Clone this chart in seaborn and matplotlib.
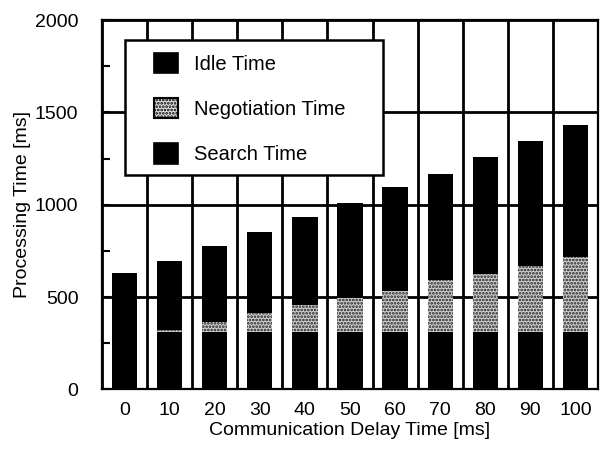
import matplotlib
matplotlib.use("Agg")
import matplotlib.pyplot as plt
from matplotlib.patches import Patch, Rectangle
from matplotlib.ticker import MultipleLocator
import numpy as np
import pandas as pd
import seaborn as sns

# Communication delay (ms) and the three processing-time components (ms)
delays = ["0", "10", "20", "30", "40", "50", "60", "70", "80", "90", "100"]
search_time = [313, 313, 313, 313, 313, 313, 313, 313, 313, 313, 313]
negotiation_time = [0, 8, 51, 100, 145, 181, 222, 277, 313, 358, 403]
idle_time = [320, 377, 415, 442, 473, 515, 559, 576, 633, 672, 714]

legend_labels = ["Idle Time", "Negotiation Time", "Search Time"]

sns.set_style("white")
plt.rcParams["font.family"] = ["Liberation Sans", "DejaVu Sans"]
plt.rcParams["text.color"] = "black"
plt.rcParams["axes.labelcolor"] = "black"
plt.rcParams["xtick.color"] = "black"
plt.rcParams["ytick.color"] = "black"
plt.rcParams["hatch.linewidth"] = 1.3

df = pd.DataFrame({
    "delay": delays,
    "search": search_time,
    "negotiation": negotiation_time,
    "idle": idle_time,
})
df["upto_negotiation"] = df["search"] + df["negotiation"]
df["total"] = df["upto_negotiation"] + df["idle"]

fig = plt.figure(figsize=(6.01, 4.55), dpi=100)
ax = fig.add_axes([0.1697, 0.144, 0.8253, 0.812])

bar_w = 0.56
# stacked bars drawn as overlapping cumulative layers
sns.barplot(data=df, x="delay", y="total", order=delays, color="black",
            width=bar_w, linewidth=0, saturation=1, ax=ax, zorder=2)
sns.barplot(data=df, x="delay", y="upto_negotiation", order=delays, color="#cfcfcf",
            width=bar_w, linewidth=0, edgecolor="#202020", hatch=".....",
            saturation=1, ax=ax, zorder=3)
sns.barplot(data=df, x="delay", y="search", order=delays, color="black",
            width=bar_w, linewidth=0, saturation=1, ax=ax, zorder=4)

ax.set_xlim(-0.5, len(delays) - 0.5)
ax.set_ylim(0, 2000)

# grid: category separators and every 500 ms
ax.set_xticks(np.arange(-0.5, len(delays), 1.0), minor=True)
ax.yaxis.set_major_locator(MultipleLocator(500))
ax.yaxis.set_minor_locator(MultipleLocator(250))
ax.set_axisbelow(True)
ax.xaxis.grid(True, which="minor", color="black", linewidth=2.0)
ax.xaxis.grid(False, which="major")
ax.yaxis.grid(True, which="major", color="black", linewidth=2.0)
ax.yaxis.grid(False, which="minor")

ax.tick_params(axis="x", which="both", length=0, pad=9, labelsize=14)
ax.tick_params(axis="y", which="both", direction="in", length=6, width=1.5,
               pad=17, labelsize=14, left=True)

for s in ax.spines.values():
    s.set_visible(True)
    s.set_color("black")
    s.set_linewidth(1.6)
    s.set_zorder(6)

ax.set_xlabel("Communication Delay Time [ms]", fontsize=14, labelpad=2)
ax.set_ylabel("Processing Time [ms]", fontsize=14, labelpad=2.5)

# legend box
box = Rectangle((0.046, 0.580), 0.521, 0.366, transform=ax.transAxes,
                facecolor="white", edgecolor="black", linewidth=1.8, zorder=7)
ax.add_patch(box)
handles = [
    Patch(facecolor="black", edgecolor="black", linewidth=1.2),
    Patch(facecolor="#e0e0e0", edgecolor="black", hatch=".....", linewidth=1.5),
    Patch(facecolor="black", edgecolor="black", linewidth=1.2),
]
leg = ax.legend(handles, legend_labels, loc="upper left",
                bbox_to_anchor=(0.105, 0.912), frameon=False,
                fontsize=14.5, handlelength=1.2, handleheight=1.2,
                handletextpad=0.8, labelspacing=1.2, borderpad=0.0,
                borderaxespad=0.0)
leg.set_zorder(8)

fig.savefig("out.png", dpi=100)
